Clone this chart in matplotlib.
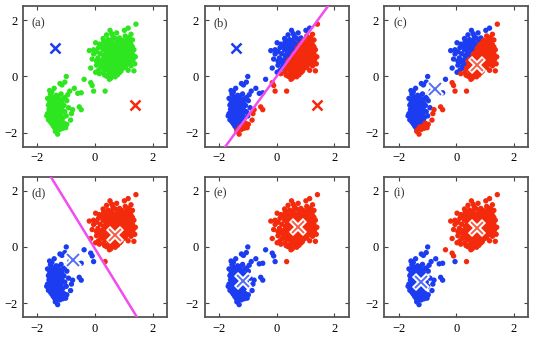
import numpy as np
import matplotlib
matplotlib.use("Agg")
import matplotlib.pyplot as plt

# Old Faithful (standardised), positions
upper = [
    (1.42, 1.86), (1.15, 1.72), (1.02, 1.64), (0.52, 1.64), (0.58, 1.52), (0.75, 1.55),
    (1.25, 1.50), (1.30, 1.30), (0.02, 1.20), (-0.20, 0.92), (-0.05, 0.95), (-0.10, 0.62),
    (-0.15, 0.30), (0.02, 0.15), (0.15, 0.10), (0.33, 0.05), (0.50, -0.10), (0.60, 0.05),
    (1.38, 0.45), (1.40, 0.70), (1.35, 0.95), (0.35, -0.52), (0.05, 0.40), (0.20, 0.30),
    (0.62, 1.42), (0.85, 1.37), (1.05, 1.44), (1.18, 1.38),
    (0.45, 1.31), (0.70, 1.35), (0.95, 1.29), (1.12, 1.34),
    (0.30, 1.24), (0.55, 1.28), (0.78, 1.22), (0.90, 1.27), (1.08, 1.23), (1.22, 1.25),
    (0.38, 1.17), (0.60, 1.20), (0.72, 1.15), (0.88, 1.19), (1.00, 1.14), (1.15, 1.18),
    (0.22, 1.10), (0.48, 1.13), (0.65, 1.08), (0.80, 1.12), (0.95, 1.07), (1.10, 1.11), (1.25, 1.13),
    (0.12, 1.02), (0.35, 1.05), (0.55, 1.01), (0.70, 1.06), (0.85, 1.03), (0.92, 0.99), (1.05, 1.05), (1.18, 1.02),
    (0.28, 0.95), (0.45, 0.98), (0.62, 0.93), (0.75, 0.97), (0.83, 0.94), (0.98, 0.96), (1.12, 0.93), (1.28, 0.98),
    (0.05, 0.88), (0.38, 0.86), (0.52, 0.90), (0.68, 0.87), (0.78, 0.91), (0.90, 0.86), (1.02, 0.89), (1.20, 0.87),
    (0.18, 0.81), (0.42, 0.83), (0.58, 0.79), (0.65, 0.84), (0.72, 0.80), (0.85, 0.82), (0.95, 0.78), (1.08, 0.83), (1.30, 0.80),
    (0.30, 0.74), (0.48, 0.77), (0.60, 0.72), (0.70, 0.76), (0.80, 0.73), (0.88, 0.75), (1.00, 0.71), (1.15, 0.76), (1.25, 0.73),
    (0.10, 0.66), (0.38, 0.68), (0.55, 0.64), (0.65, 0.69), (0.75, 0.65), (0.92, 0.68), (1.05, 0.64), (1.18, 0.67),
    (0.25, 0.59), (0.45, 0.61), (0.62, 0.57), (0.70, 0.62), (0.82, 0.58), (0.98, 0.61), (1.10, 0.57), (1.32, 0.60),
    (0.15, 0.52), (0.40, 0.54), (0.52, 0.50), (0.68, 0.55), (0.78, 0.51), (0.90, 0.53), (1.02, 0.49), (1.22, 0.52),
    (0.30, 0.44), (0.48, 0.47), (0.60, 0.43), (0.72, 0.46), (0.85, 0.42), (0.95, 0.46), (1.12, 0.44),
    (0.22, 0.37), (0.42, 0.39), (0.58, 0.35), (0.75, 0.38), (0.88, 0.36), (1.05, 0.33), (1.25, 0.38),
    (0.35, 0.30), (0.50, 0.28), (0.65, 0.32), (0.80, 0.27), (0.98, 0.30),
    (0.12, 0.22), (0.45, 0.24), (0.60, 0.20), (0.72, 0.23), (0.90, 0.19), (1.15, 0.22),
    (0.30, 0.15), (0.55, 0.17), (0.68, 0.13), (0.85, 0.14),
    (0.45, 0.07), (0.62, 0.09), (0.78, 0.06),
    (0.40, 0.01), (0.70, -0.01), (0.55, -0.06),
    (0.82, 0.62), (0.88, 0.78), (0.76, 0.90), (0.95, 0.55), (1.00, 0.85), (0.66, 0.50),
    (0.58, 0.70), (1.08, 0.70), (0.72, 1.00), (0.92, 1.18), (1.22, 0.85), (0.50, 0.85),
    (0.85, 0.35), (1.05, 0.40), (0.40, 0.65), (0.15, 1.15), (0.28, 1.35), (0.40, 1.48),
    (-0.05, 0.80), (0.05, 0.55), (1.30, 1.05), (1.35, 0.20),
]
lower = [
    (-1.00, 0.00), (-1.15, -0.30), (-1.22, -0.25), (-0.72, -0.42), (-0.88, -0.52), (-0.48, -0.58),
    (-1.58, -0.50), (-1.42, -0.42), (-1.65, -0.78), (-0.55, -1.08), (-0.48, -1.18), (-1.68, -1.40),
    (-1.30, -2.05), (-1.38, -1.95), (-1.02, -1.82), (-0.98, -1.70), (-0.82, -1.32), (-0.95, -0.65),
    (-1.55, -0.63), (-1.35, -0.67), (-1.18, -0.62),
    (-1.48, -0.73), (-1.28, -0.70), (-1.05, -0.75),
    (-1.60, -0.81), (-1.40, -0.78), (-1.22, -0.83), (-1.12, -0.79),
    (-1.52, -0.88), (-1.35, -0.85), (-1.25, -0.90), (-0.98, -0.86),
    (-1.58, -0.95), (-1.45, -0.92), (-1.30, -0.97), (-1.15, -0.93),
    (-1.62, -1.02), (-1.48, -0.99), (-1.38, -1.04), (-1.25, -1.00), (-1.08, -1.03),
    (-1.55, -1.10), (-1.42, -1.07), (-1.32, -1.12), (-1.20, -1.08), (-0.92, -1.11),
    (-1.60, -1.17), (-1.50, -1.14), (-1.38, -1.19), (-1.28, -1.15), (-1.15, -1.18),
    (-1.52, -1.24), (-1.42, -1.21), (-1.35, -1.26), (-1.22, -1.22), (-1.05, -1.25),
    (-1.65, -1.32), (-1.48, -1.29), (-1.38, -1.33), (-1.30, -1.30), (-1.18, -1.34),
    (-1.55, -1.39), (-1.45, -1.36), (-1.32, -1.40), (-1.20, -1.37), (-1.00, -1.40),
    (-1.58, -1.46), (-1.42, -1.43), (-1.35, -1.48), (-1.25, -1.44), (-1.12, -1.47),
    (-1.62, -1.54), (-1.48, -1.51), (-1.38, -1.55), (-1.28, -1.52),
    (-1.55, -1.61), (-1.40, -1.58), (-1.30, -1.63), (-1.15, -1.59),
    (-1.50, -1.68), (-1.35, -1.65), (-1.22, -1.70), (-1.08, -1.66),
    (-1.45, -1.76), (-1.32, -1.73), (-1.18, -1.77),
    (-1.40, -1.83), (-1.28, -1.80), (-1.12, -1.84),
    (-1.35, -1.90), (-1.22, -1.88),
    (-0.38, -0.10), (-0.15, -0.22), (-0.10, -0.32), (-0.05, -0.52), (-0.60, -0.60),
    (-1.05, -0.20), (-1.50, -0.55), (-0.78, -1.18), (-0.85, -1.55),
]
points = np.array(upper + lower)

# centres (row 0 = blue, row 1 = red)
mu_a = np.array([[-1.40, 1.00], [1.40, -1.00]])
mu_c = np.array([[-0.75, -0.46], [0.70, 0.41]])
mu_e = np.array([[-1.18, -1.21], [0.76, 0.70]])
mu_i = np.array([[-1.22, -1.23], [0.72, 0.66]])

panel_labels = ['(a)', '(b)', '(c)', '(d)', '(e)', '(i)']
# centres drawn / centres that decide the colours / boundary line
panel_centres = [mu_a, mu_a, mu_c, mu_c, mu_e, mu_i]
panel_assign = [None, mu_a, mu_a, mu_c, mu_c, mu_i]
panel_line = [None, mu_a, None, mu_c, None, None]

GREEN = '#2ee620'
BLUE = '#1c3cf2'
RED = '#f42a0c'
MAGENTA = '#f24cf0'

lefts = [0.043, 0.381, 0.716]
bottoms = [0.572, 0.075]
w, h = 0.268, 0.41

fig = plt.figure(figsize=(5.37, 3.43), dpi=100)

for k in range(6):
    ax = fig.add_axes([lefts[k % 3], bottoms[k // 3], w, h])
    ax.set_xlim(-2.5, 2.5)
    ax.set_ylim(-2.5, 2.5)

    if panel_assign[k] is None:
        ax.scatter(points[:, 0], points[:, 1], s=15, color=GREEN, edgecolors='none', zorder=2)
    else:
        m = panel_assign[k]
        d = ((points[:, None, :] - m[None, :, :]) ** 2).sum(axis=2)
        lab = d.argmin(axis=1)
        ax.scatter(points[lab == 0, 0], points[lab == 0, 1], s=15, color=BLUE, edgecolors='none', zorder=2)
        ax.scatter(points[lab == 1, 0], points[lab == 1, 1], s=15, color=RED, edgecolors='none', zorder=2)

    if panel_line[k] is not None:
        m = panel_line[k]
        mid = m.mean(axis=0)
        dv = m[1] - m[0]
        xs = np.array([-3.0, 3.0])
        ys = mid[1] - dv[0] / dv[1] * (xs - mid[0])
        ax.plot(xs, ys, color=MAGENTA, lw=1.8, zorder=3)

    m = panel_centres[k]
    if k < 2:
        ax.plot(m[0, 0], m[0, 1], 'x', color=BLUE, ms=6.5, mew=1.8, zorder=4)
        ax.plot(m[1, 0], m[1, 1], 'x', color=RED, ms=6.5, mew=1.8, zorder=4)
    else:
        for c, col in zip(m, [BLUE, RED]):
            ax.plot(c[0], c[1], 'x', color='white', ms=10, mew=4.2, zorder=4)
            ax.plot(c[0], c[1], 'x', color=col, ms=9, mew=1.4, alpha=0.75, zorder=5)

    ax.text(0.06, 0.88, panel_labels[k], transform=ax.transAxes, fontsize=9,
            family='Liberation Serif', color='#333333', va='center')
    ax.set_xticks([-2, 0, 2])
    ax.set_yticks([-2, 0, 2])
    ax.tick_params(direction='in', length=3, top=True, right=True, labelsize=9,
                   color='#444444', pad=4)
    for t in ax.get_xticklabels() + ax.get_yticklabels():
        t.set_family('Liberation Serif')
    for s in ax.spines.values():
        s.set_color('#555555')
        s.set_linewidth(1.3)

fig.savefig('out.png', dpi=100)
